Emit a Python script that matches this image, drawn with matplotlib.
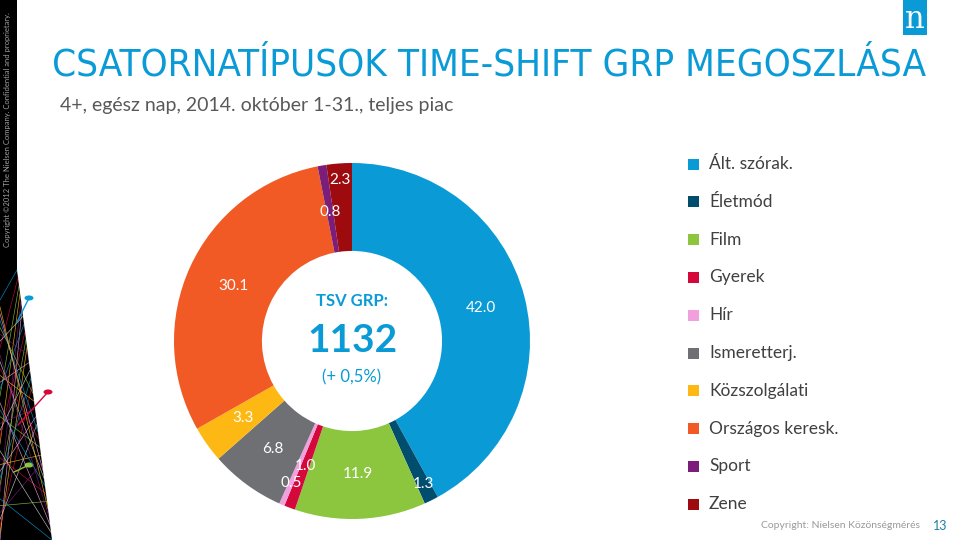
import matplotlib
matplotlib.use("Agg")
import matplotlib.pyplot as plt
from matplotlib.patches import Rectangle, Circle, Polygon
from matplotlib.lines import Line2D
import numpy as np

# data
categories = ["Ált. szórak.", "Életmód", "Film", "Gyerek", "Hír", "Ismeretterj.",
              "Közszolgálati", "Országos keresk.", "Sport", "Zene"]
shares = [42.0, 1.3, 11.9, 1.0, 0.5, 6.8, 3.3, 30.1, 0.8, 2.3]
colors = ["#0a9bd7", "#004d6e", "#8cc63f", "#d5083c", "#f29fde", "#6f7073",
          "#fdb813", "#f15a24", "#7b1e7a", "#9d0b0f"]
# radial position of each value label (fraction of outer radius)
label_r = [0.75, 0.90, 0.75, 0.75, 0.87, 0.75, 0.75, 0.735, 0.735, 0.905]

title = "CSATORNATÍPUSOK TIME-SHIFT GRP MEGOSZLÁSA"
subtitle = "4+, egész nap, 2014. október 1-31., teljes piac"
total_grp = "1132"
change = "(+ 0,5%)"

W, H = 960, 540
fig = plt.figure(figsize=(9.6, 5.4), dpi=100)
fig.patch.set_facecolor("white")
BODY = ["Lato", "DejaVu Sans"]
BLUE = "#0a9bd7"


def px(x, y):
    # figure pixel (from top-left) -> figure fraction
    return x / W, 1 - y / H


# donut
cx, cy, R = 352, 341, 178
ax = fig.add_axes([(cx - R) / W, (H - cy - R) / H, 2 * R / W, 2 * R / H])
wedges, _ = ax.pie(shares, colors=colors, startangle=90, counterclock=False,
                   radius=1, wedgeprops=dict(width=0.494, linewidth=0))
ax.set_xlim(-1, 1)
ax.set_ylim(-1, 1)
ax.set_aspect("equal")
ax.axis("off")

for w, v, r in zip(wedges, shares, label_r):
    th = np.deg2rad((w.theta1 + w.theta2) / 2)
    ax.text(r * np.cos(th), r * np.sin(th), f"{v:.1f}", ha="center", va="center",
            color="white", fontsize=11, family=BODY)

ax.text(0, 0.225, "TSV GRP:", ha="center", va="center", color=BLUE,
        fontsize=12, fontweight="bold", family=BODY)
ax.text(0, 0.0, total_grp, ha="center", va="center", color=BLUE,
        fontsize=28, fontweight="bold", family=BODY)
ax.text(0, -0.205, change, ha="center", va="center", color=BLUE,
        fontsize=12, family=BODY)

# legend
for i, (lab, col) in enumerate(zip(categories, colors)):
    y = 164 + i * 37.8
    x0, y0 = px(688, y + 5.5)
    fig.add_artist(Rectangle((x0, y0), 11 / W, 11 / H, transform=fig.transFigure,
                             facecolor=col, edgecolor="none"))
    fig.text(*px(709, y), lab, ha="left", va="center", fontsize=12.5,
             color="#404040", family=BODY)

# titles (title font shrunk to fit the reference width)
t = fig.text(*px(52, 66), title, ha="left", va="center", fontsize=29, color=BLUE,
             family=["DejaVu Sans"], fontstretch="condensed", fontweight="light")
fig.canvas.draw()
wpx = t.get_window_extent(fig.canvas.get_renderer()).width
t.set_fontsize(29 * 873 / wpx)
fig.text(*px(60, 106), subtitle, ha="left", va="center", fontsize=14,
         color="#595959", family=BODY)

# footer
fig.text(*px(920, 526), "Copyright: Nielsen Közönségmérés", ha="right", va="center",
         fontsize=7.5, color="#9a9a9a", family=BODY)
fig.text(*px(940, 526), "13", ha="center", va="center", fontsize=9,
         color="#1b7fa3", family=BODY)

# nielsen logo
lx, ly = px(903, 35)
fig.add_artist(Rectangle((lx, ly), 24 / W, 35 / H, transform=fig.transFigure,
                         facecolor=BLUE, edgecolor="none"))
fig.text(*px(915, 19), "n", ha="center", va="center", fontsize=22, color="white",
         family=["DejaVu Serif"])

# left decorative strip
fig.add_artist(Rectangle((0, 0), 17 / W, 1, transform=fig.transFigure,
                         facecolor="black", edgecolor="none"))
fig.add_artist(Polygon([px(0, 270), px(17, 270), px(52, 540), px(0, 540)],
                       closed=True, transform=fig.transFigure,
                       facecolor="black", edgecolor="none"))
mesh = ["#0a9bd7", "#d5083c", "#8cc63f", "#fdb813", "#7b1e7a", "#f29fde", "#cfcfcf"]
n = 36
for k in range(n):
    f = k / (n - 1)
    xa, ya = 17 + f * 35, 270 + f * 270
    g = (k * 7 % n) / (n - 1)
    xb, yb = 0, 300 + g * 240
    a, b = px(xa, ya)
    c, d = px(xb, yb)
    fig.add_artist(Line2D([a, c], [b, d], transform=fig.transFigure,
                          color=mesh[k % len(mesh)], lw=0.45, alpha=0.9))

for (dx, dy, ex, ey, col) in [(29, 298, 17, 322, "#0a9bd7"),
                               (48, 392, 18, 425, "#d5083c"),
                               (29, 465, 14, 472, "#8cc63f")]:
    a, b = px(dx, dy)
    c, d = px(ex, ey)
    fig.add_artist(Line2D([a, c], [b, d], transform=fig.transFigure,
                          color=col, lw=1))
    fig.add_artist(Circle((a, b), 4.5 / W, transform=fig.transFigure,
                          facecolor=col, edgecolor="none"))

fig.text(*px(8, 130), "Copyright ©2012 The Nielsen Company. Confidential and proprietary.",
         rotation=90, ha="center", va="center", fontsize=5.5, color="#a0a0a0",
         family=BODY)

fig.savefig("out.png", dpi=100)
